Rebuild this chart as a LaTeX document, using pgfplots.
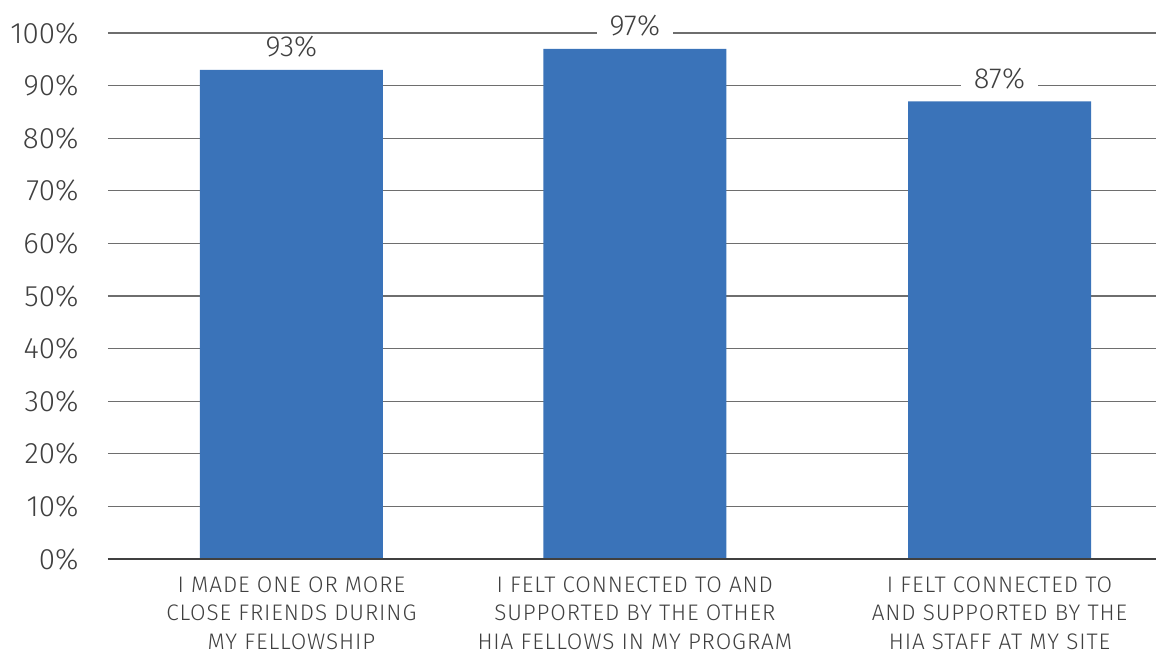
\documentclass[border=0pt]{standalone}
\usepackage{pgfplots}
\pgfplotsset{compat=1.18}
\usepackage{fontspec}
\setmainfont{Fira Sans}[UprightFont=* Light, BoldFont=* Regular]
\newfontfamily\catfont{Fira Sans}[UprightFont=* Light, LetterSpace=4]
\definecolor{barblue}{RGB}{58,115,185}
\definecolor{txt}{RGB}{64,64,64}
\definecolor{gridc}{RGB}{110,110,110}
\begin{document}
\begin{tikzpicture}[x=1pt,y=1pt]
\useasboundingbox (-108,-94) rectangle (1048,559);
\begin{axis}[
  at={(0,0)}, anchor=south west,
  scale only axis, width=1048pt, height=526pt,
  xmin=-0.518, xmax=2.442, ymin=0, ymax=100,
  ybar, bar width=183pt,
  axis lines*=left,
  axis line style={draw=none},
  clip=false,
  ytick={0,10,...,100},
  xtick={0,0.97,2},
  xticklabels={I MADE ONE OR MORE\\CLOSE FRIENDS DURING\\MY FELLOWSHIP,
    I FELT CONNECTED TO AND\\SUPPORTED BY THE OTHER\\HIA FELLOWS IN MY PROGRAM,
    I FELT CONNECTED TO\\AND SUPPORTED BY THE\\HIA STAFF AT MY SITE},
  major tick length=0pt,
  /pgf/number format/assume math mode=true,
  yticklabel={\pgfmathprintnumber{\tick}\%},
  yticklabel style={font=\fontsize{29.5}{32}\selectfont, text=txt, xshift=-26pt},
  xticklabel style={font=\catfont\fontsize{22.5}{28.5}\selectfont, text=txt, align=center, yshift=-14pt},
  ymajorgrids, grid style={gridc, line width=1.1pt},
  nodes near coords={\pgfmathprintnumber{\pgfplotspointmeta}\%},
  nodes near coords style={font=\fontsize{29}{32}\selectfont, text=txt, fill=white, inner xsep=13pt, inner ysep=3pt, anchor=south, yshift=9pt},
]
\addplot[fill=barblue, draw=none] coordinates {(0,93) (0.97,97) (2,87)};
\draw[txt, line width=2pt] (rel axis cs:0,0) -- (rel axis cs:1,0);
\end{axis}
\end{tikzpicture}
\end{document}
